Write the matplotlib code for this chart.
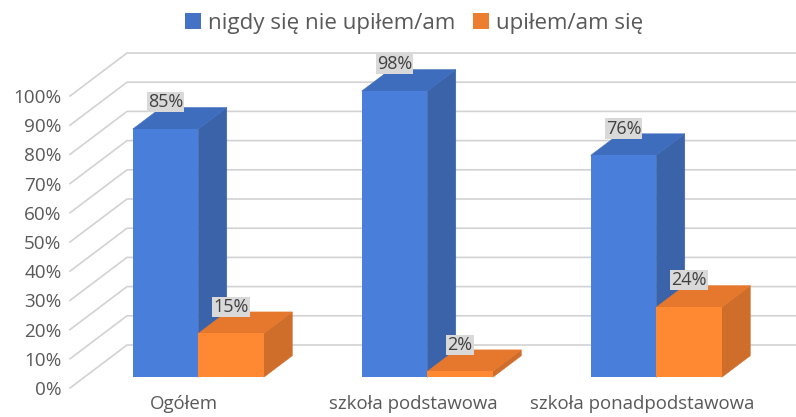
import matplotlib
matplotlib.use("Agg")
import matplotlib.pyplot as plt
from matplotlib.patches import Polygon, Patch

categories = ["Ogółem", "szkoła podstawowa", "szkoła ponadpodstawowa"]
series_names = ["nigdy się nie upiłem/am", "upiłem/am się"]
never = [85, 98, 76]
did = [15, 2, 24]
y_ticks = list(range(0, 101, 10))
y_labels = [f"{v}%" for v in y_ticks]

W, H = 796, 417
PX_X = 229.0            # pixels per category
PX_Y = 2.92             # pixels per percent
X0, Y0 = 184.0, 388.0   # pixel position of category 0 / value 0 on front plane
LEFT = 70.0
DX, DY = 57.0 / PX_X, 43.0 / PX_Y  # wall depth in data units
BAR_W = 65.5 / PX_X
T_FRONT, T_BACK = 0.25, 0.75

plt.rcParams["font.family"] = ["Open Sans", "DejaVu Sans"]
TXT = "#595959"

fig = plt.figure(figsize=(W / 100, H / 100), dpi=100)
ax = fig.add_axes([LEFT / W, (H - Y0) / H, (W - LEFT) / W, Y0 / H])
ax.set_xlim((LEFT - X0) / PX_X, (W - X0) / PX_X)
ax.set_ylim(0, Y0 / PX_Y)
for s in ax.spines.values():
    s.set_visible(False)

ax.set_yticks(y_ticks, y_labels)
ax.set_xticks(range(len(categories)), categories)
ax.tick_params(axis="y", length=0, pad=6, labelsize=13.6, labelcolor=TXT)
ax.tick_params(axis="x", length=0, pad=5, labelsize=13.4, labelcolor=TXT)

xl = ax.get_xlim()
for v in y_ticks:
    ax.plot([xl[0], xl[0] + DX, xl[1]], [v, v + DY, v + DY],
            color="#D2D2D2", lw=1.2, zorder=1, clip_on=False)


def draw_bar(x_left, value, front, top, side, z):
    x0 = x_left + T_FRONT * DX
    x1 = x0 + BAR_W
    b = T_FRONT * DY
    d_x, d_y = (T_BACK - T_FRONT) * DX, (T_BACK - T_FRONT) * DY
    ax.add_patch(Polygon([(x1, b), (x1 + d_x, b + d_y), (x1 + d_x, b + d_y + value), (x1, b + value)],
                         closed=True, fc=side, ec=side, lw=0.4, zorder=z))
    ax.add_patch(Polygon([(x0, b + value), (x1, b + value), (x1 + d_x, b + d_y + value), (x0 + d_x, b + d_y + value)],
                         closed=True, fc=top, ec=top, lw=0.4, zorder=z + 0.1))
    ax.bar(x0, value, width=BAR_W, bottom=b, align="edge", color=front, zorder=z + 0.2)
    ax.annotate(f"{value}%", (x0 + BAR_W / 2, b + value), xytext=(0, 19.3), textcoords="offset points",
                ha="center", va="center", fontsize=13, color="#404040", zorder=20,
                bbox=dict(boxstyle="square,pad=0.06", fc="#D9D9D9", ec="none"))


for i in range(len(categories)):
    draw_bar(i - BAR_W, never[i], "#4A7EDB", "#3F6DBD", "#3A63A9", 3 + i)
    draw_bar(i, did[i], "#FF8832", "#E5782D", "#CF6D2A", 3.5 + i)

handles = [Patch(fc="#4472C4", label=series_names[0]), Patch(fc="#ED7D31", label=series_names[1])]
fig.legend(handles=handles, loc="center", bbox_to_anchor=(414 / W, 1 - 23 / H), ncol=2, frameon=False,
           fontsize=16.1, labelcolor=TXT, handlelength=0.715, handleheight=0.715,
           handletextpad=0.31, columnspacing=0.8)

fig.savefig("out.png", dpi=100)
